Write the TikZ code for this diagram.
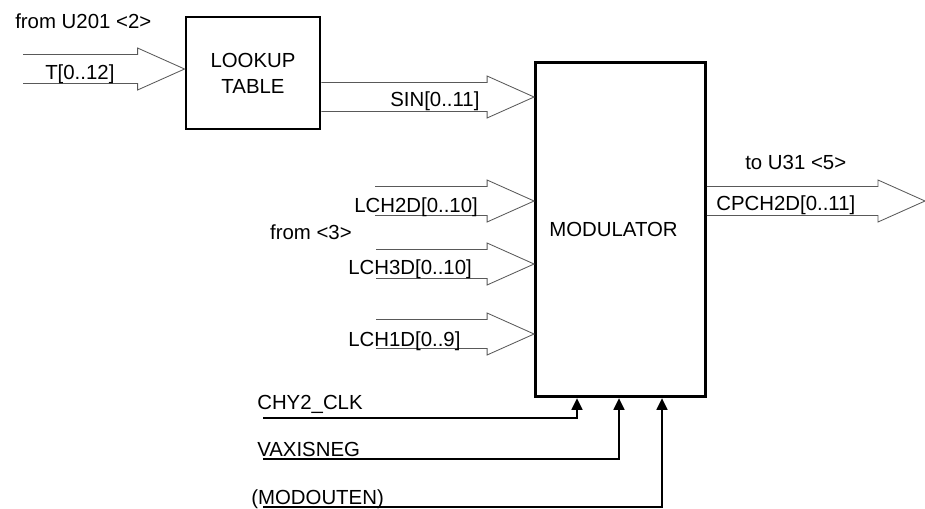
\documentclass[tikz,border=0pt]{standalone}
\usepackage{fontspec}
\setmainfont{Liberation Sans}
\usetikzlibrary{arrows.meta,calc}

\tikzset{
  block/.style={draw,line width=2pt,align=center,inner sep=0pt},
  bus/.style={draw=black!65,line width=0.6pt},
  ctl/.style={line width=2pt,-{Triangle[length=8.5pt,width=7.5pt]}},
  lbl/.style={inner sep=0pt,anchor=base west},
}

\begin{document}
\begin{tikzpicture}[x=0.025cm,y=-0.025cm,line join=miter,font=\fontsize{14.5}{18.5}\selectfont]
  \useasboundingbox (0,0) rectangle (925,508);
  % Khối tra bảng và bộ điều chế
  \node[block,minimum width=3.35cm,minimum height=2.8cm] (lut) at (253,73) {LOOKUP\\TABLE};
  \node[block,minimum width=4.25cm,minimum height=8.35cm] (mod) at (620.5,229.5) {MODULATOR\hspace*{0.35cm}};
  % Điểm đầu, điểm cuối của các bus
  \path
  (23,69) coordinate (tS)
  (lut.west |- 0,69) coordinate (tT)
  (lut.east |- 0,97) coordinate (sinS)
  (mod.west |- 0,97) coordinate (sinT)
  (375,201) coordinate (l2S)
  (mod.west |- 0,201) coordinate (l2T)
  (376,264) coordinate (l3S)
  (mod.west |- 0,264) coordinate (l3T)
  (376,334) coordinate (l1S)
  (mod.west |- 0,334) coordinate (l1T)
  (mod.east |- 0,201) coordinate (cpS)
  (925,201) coordinate (cpT);
  \foreach \s/\t in {tS/tT,sinS/sinT,l2S/l2T,l3S/l3T,l1S/l1T,cpS/cpT}{
    \draw[bus] ($(\s)+(0,-14.5)$) -- ($(\t)+(-47,-14.5)$) -- ($(\t)+(-47,-21)$) -- (\t)
    -- ($(\t)+(-47,21)$) -- ($(\t)+(-47,14.5)$) -- ($(\s)+(0,14.5)$);
  }
  % Nhãn
  \node[lbl] (fromA) at (15,28) {from U201 <2>};
  \node[lbl] (tlbl) at (45,79.5) {T[0..12]};
  \node[lbl] (sinlbl) at (390,106.5) {SIN[0..11]};
  \node[lbl] (toB) at (745,169) {to U31 <5>};
  \node[lbl] (cplbl) at (716,210.5) {CPCH2D[0..11]};
  \node[lbl] (l2lbl) at (354,212) {LCH2D[0..10]};
  \node[lbl,anchor=base east] (fromC) at (352,239) {from <3>};
  \node[lbl] (l3lbl) at (348,274.5) {LCH3D[0..10]};
  \node[lbl] (l1lbl) at (348,346) {LCH1D[0..9]};
  % Tín hiệu điều khiển
  \path
  (263,418) coordinate (clk)
  (263,459) coordinate (vax)
  (263,507) coordinate (mdo)
  (mod.south -| 577,0) coordinate (m1)
  (mod.south -| 619,0) coordinate (m2)
  (mod.south -| 662,0) coordinate (m3);
  \node[lbl] (clklbl) at (257,409.5) {CHY2\_CLK};
  \node[lbl] (vaxlbl) at (257,456) {VAXISNEG};
  \node[lbl] (mdolbl) at (251,504) {(MODOUTEN)};
  \foreach \a/\b in {clk/m1,vax/m2,mdo/m3}{
    \draw[ctl] (\a) -| (\b);
  }
\end{tikzpicture}
\end{document}
